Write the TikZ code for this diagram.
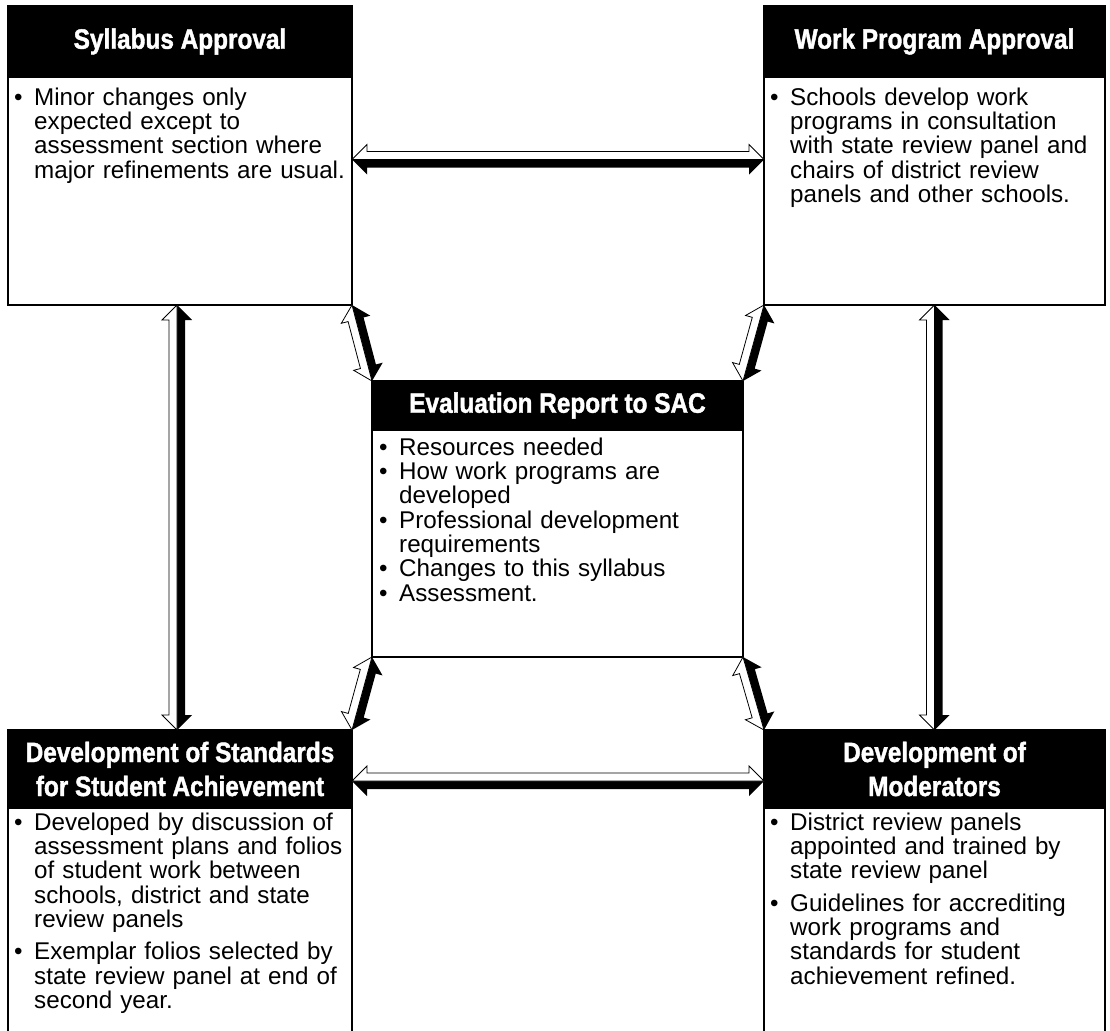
\documentclass[tikz,border=0pt]{standalone}
\usepackage{fontspec}
\setmainfont{Liberation Sans}
\newfontfamily\headfont[FakeStretch=0.87,FakeBold=1.5]{Liberation Sans Bold}
\usetikzlibrary{calc}
\newcommand\bodyfont{\fontsize{24.2}{24.3}\selectfont}
\newcommand\bmark{\llap{\makebox[20pt][l]{\rule{0pt}{18pt}\textbullet}}}
\newcommand\bfirst{\leftskip=20pt\relax\bmark}
\newcommand\bitem{\par\noindent\bmark}
\newcommand\bgap{\par\vspace{8pt}}
\newcommand\twoway[2]{%
  \path let \p1=(#1), \p2=(#2), \n1={atan2(\y2-\y1,\x2-\x1)}, \n2={veclen(\x2-\x1,\y2-\y1)} in
    \pgfextra{\xdef\arA{\n1}\xdef\arL{\n2}\xdef\arX{\x1}\xdef\arY{\y1}};
  \pgfmathsetmacro\arAn{\arA}%
  \pgfmathsetmacro\arLn{\arL}%
  \pgfmathsetmacro\arB{\arLn-15}%
  \begin{scope}[shift={(\arX,\arY)}, rotate=\arAn]
    \fill[black] (0pt,0pt) -- (15pt,-15pt) -- (15pt,-8pt) -- (\arB pt,-8pt) -- (\arB pt,-15pt) -- (\arLn pt,0pt) -- cycle;
    \draw[arrowline] (0pt,0pt) -- (15pt,15pt) -- (15pt,8pt) -- (\arB pt,8pt) -- (\arB pt,15pt) -- (\arLn pt,0pt) -- cycle;
  \end{scope}}
\tikzset{
  box/.style={draw=black, line width=1.6pt, fill=white, anchor=north west, inner sep=0pt, outer sep=0pt},
  head/.style={draw=black, line width=1.6pt, fill=black, text=white, anchor=north west, inner sep=0pt, outer sep=0pt, align=center, font=\headfont\fontsize{28}{34}\selectfont},
  body/.style={anchor=north west, inner sep=0pt, text width=400pt, align=left, font=\bodyfont},
  arrowline/.style={draw=black, fill=white, line width=0.8pt, line join=miter}
}
\begin{document}
\begin{tikzpicture}[x=1pt, y=-1pt]
\useasboundingbox (0,0) rectangle (1110,1030);
% boxes
\node[box, minimum width=344pt, minimum height=299pt] (syl) at (8,6) {};
\node[head, minimum width=344pt, minimum height=71pt] (sylh) at (8,6) {Syllabus Approval};
\node[box, minimum width=341pt, minimum height=299pt] (wp) at (764,6) {};
\node[head, minimum width=341pt, minimum height=71pt] (wph) at (764,6) {Work Program Approval};
\node[box, minimum width=371pt, minimum height=276pt] (ev) at (372,381) {};
\node[head, minimum width=371pt, minimum height=49pt] (evh) at (372,381) {Evaluation Report to SAC};
\node[box, minimum width=344pt, minimum height=305pt] (std) at (8,730) {};
\node[head, minimum width=344pt, minimum height=78pt] (stdh) at (8,730) {Development of Standards\\for Student Achievement};
\node[box, minimum width=341pt, minimum height=305pt] (mod) at (764,730) {};
\node[head, minimum width=341pt, minimum height=78pt] (modh) at (764,730) {Development of\\Moderators};
% texts
\node[body] (sylt) at (14,87) {\bfirst Minor changes only\\expected except to\\assessment section where\\major refinements are usual.\par};
\node[body] (wpt) at (770,87) {\bfirst Schools develop work\\programs in consultation\\with state review panel and\\chairs of district review\\panels and other schools.\par};
\node[body] (evt) at (379,437) {\bfirst Resources needed\bitem How work programs are\\developed\bitem Professional development\\requirements\bitem Changes to this syllabus\bitem Assessment.\par};
\node[body] (stdt) at (14,812) {\bfirst Developed by discussion of\\assessment plans and folios\\of student work between\\schools, district and state\\review panels\bgap\bitem Exemplar folios selected by\\state review panel at end of\\second year.\par};
\node[body] (modt) at (770,812) {\bfirst District review panels\\appointed and trained by\\state review panel\bgap\bitem Guidelines for accrediting\\work programs and\\standards for student\\achievement refined.\par};
% arrows
\twoway{[yshift=-4pt]syl.east}{[yshift=-4pt]wp.west}
\twoway{[yshift=-12pt]stdh.east}{[yshift=-12pt]modh.west}
\twoway{[xshift=-3pt]stdh.north}{[xshift=-3pt]syl.south}
\twoway{modh.north}{wp.south}
\twoway{ev.north west}{syl.south east}
\twoway{ev.north east}{wp.south west}
\twoway{stdh.north east}{ev.south west}
\twoway{modh.north west}{ev.south east}
\end{tikzpicture}
\end{document}
